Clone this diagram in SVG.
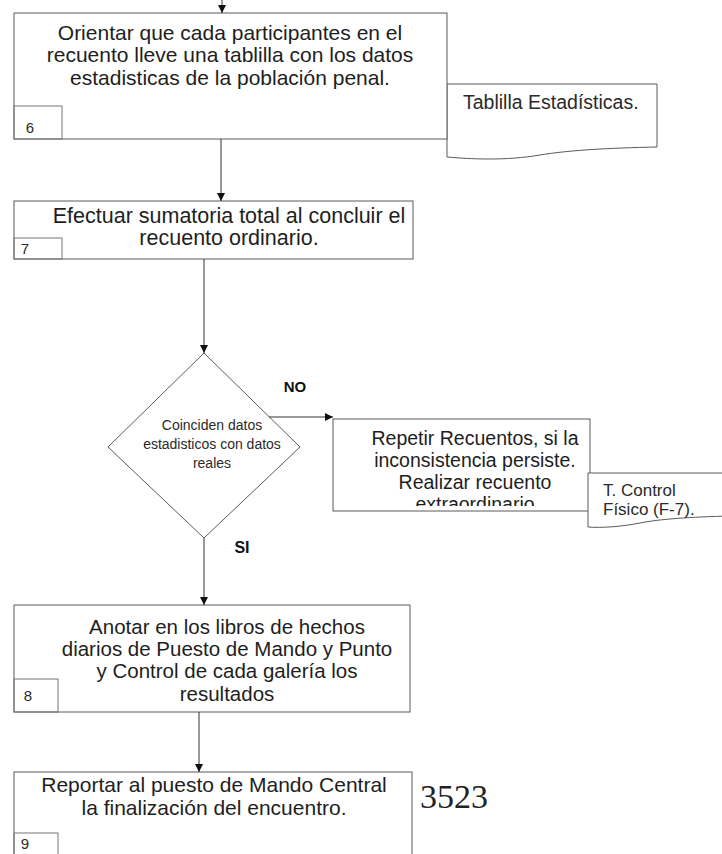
<svg xmlns="http://www.w3.org/2000/svg" width="722" height="854" viewBox="0 0 722 854">
<style>
.box{fill:#fff;stroke:#5a5a5a;stroke-width:1}
.num{fill:none;stroke:#777;stroke-width:1}
.t{font-family:"Liberation Sans",Arial,sans-serif;font-size:21px;fill:#1e1e1e;text-anchor:middle}
.s{font-family:"Liberation Sans",Arial,sans-serif;fill:#2a2a2a}
.lbl{font-family:"Liberation Sans",Arial,sans-serif;font-size:15px;font-weight:bold;fill:#111;text-anchor:middle}
.c{fill:none;stroke:#333;stroke-width:1}
</style>
<defs>
<marker id="ah" viewBox="0 0 10 10" refX="10" refY="5" markerWidth="8" markerHeight="8" markerUnits="userSpaceOnUse" orient="auto">
<path d="M0,0 L10,5 L0,10 z" fill="#111"/>
</marker>
<clipPath id="clipR"><rect x="333" y="419" width="257" height="87"/></clipPath>
</defs>
<rect width="722" height="854" fill="#fff"/>

<g id="doc1">
<path class="box" d="M447,84 L657,84 L657,147 C610,148 570,150 540,155 C505,161 470,159 447,157 Z"/>
<text class="s" x="463" y="109" font-size="19.5">Tablilla Estadísticas.</text>
</g>

<g id="step6">
<rect class="box" x="14" y="13" width="433" height="126"/>
<text class="t" x="230" y="40">Orientar que cada participantes en el</text>
<text class="t" x="230" y="62">recuento lleve una tablilla con los datos</text>
<text class="t" x="230" y="85">estadisticas de la población penal.</text>
<rect class="num" x="14" y="106" width="48" height="33"/>
<text class="s" x="30" y="133" font-size="15" text-anchor="middle">6</text>
</g>

<g id="step7">
<rect class="box" x="14" y="201" width="399" height="58"/>
<text class="t" x="229" y="223" style="font-size:21.5px">Efectuar sumatoria total al concluir el</text>
<text class="t" x="229" y="245" style="font-size:21.5px">recuento ordinario.</text>
<rect class="num" x="14" y="238" width="48" height="21"/>
<text class="s" x="25" y="254" font-size="15" text-anchor="middle">7</text>
</g>

<g id="decision">
<polygon class="box" points="204,353 300,447 204,538 108,447"/>
<text class="s" x="212" y="430" font-size="14" text-anchor="middle">Coinciden datos</text>
<text class="s" x="212" y="449" font-size="14" text-anchor="middle">estadisticos con datos</text>
<text class="s" x="212" y="468" font-size="14" text-anchor="middle">reales</text>
</g>

<g id="repeat">
<rect class="box" x="333" y="419" width="257" height="92"/>
<g clip-path="url(#clipR)">
<text class="t" x="475" y="445" style="font-size:19.5px">Repetir Recuentos, si la</text>
<text class="t" x="475" y="467" style="font-size:19.5px">inconsistencia persiste.</text>
<text class="t" x="475" y="489" style="font-size:19.5px">Realizar recuento</text>
<text class="t" x="475" y="511" style="font-size:19.5px">extraordinario</text>
</g>
</g>

<g id="doc2">
<path class="box" d="M588,473 L730,473 L730,516 C690,517 660,519 640,523 C620,527 600,528 588,527 Z"/>
<text class="s" x="603" y="496" font-size="17">T. Control</text>
<text class="s" x="603" y="515" font-size="17">Físico (F-7).</text>
</g>

<g id="step8">
<rect class="box" x="14" y="605" width="396" height="107"/>
<text class="t" x="227" y="634" style="font-size:20.5px">Anotar en los libros de hechos</text>
<text class="t" x="227" y="656" style="font-size:20.5px">diarios de Puesto de Mando y Punto</text>
<text class="t" x="227" y="678" style="font-size:20.5px">y Control de cada galería los</text>
<text class="t" x="227" y="701" style="font-size:20.5px">resultados</text>
<rect class="num" x="14" y="679" width="44" height="33"/>
<text class="s" x="28" y="701" font-size="15" text-anchor="middle">8</text>
</g>

<g id="step9">
<rect class="box" x="14" y="772" width="398" height="100"/>
<text class="t" x="214" y="792">Reportar al puesto de Mando Central</text>
<text class="t" x="214" y="815">la finalización del encuentro.</text>
<rect class="num" x="14" y="833" width="44" height="40"/>
<text class="s" x="25" y="849" font-size="15" text-anchor="middle">9</text>
</g>

<g id="pagenum">
<text x="420" y="808" font-family="'Liberation Serif','Times New Roman',serif" font-size="34" fill="#222">3523</text>
</g>

<g id="connectors">
<line class="c" x1="222" y1="-5" x2="222" y2="13" marker-end="url(#ah)"/>
<line class="c" x1="221" y1="139" x2="221" y2="201" marker-end="url(#ah)"/>
<line class="c" x1="204" y1="259" x2="204" y2="353" marker-end="url(#ah)"/>
<line class="c" x1="269" y1="417" x2="333" y2="417" marker-end="url(#ah)"/>
<line class="c" x1="204" y1="538" x2="204" y2="605" marker-end="url(#ah)"/>
<line class="c" x1="199" y1="712" x2="199" y2="772" marker-end="url(#ah)"/>
<text class="lbl" x="295" y="392">NO</text>
<text class="lbl" x="242" y="553" style="font-size:16px">SI</text>
</g>
</svg>
